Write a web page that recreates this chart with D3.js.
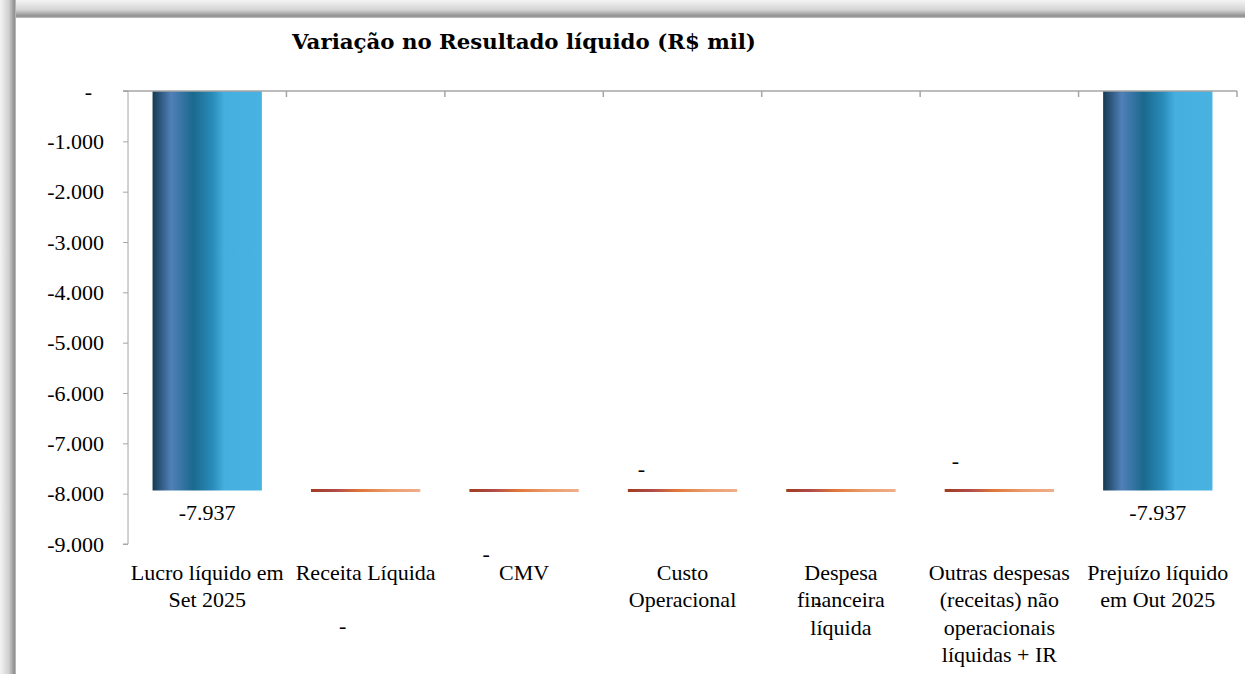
<!DOCTYPE html>
<html>
<head>
<meta charset="utf-8">
<script src="https://cdn.jsdelivr.net/npm/d3@7"></script>
<style>
  html, body { margin: 0; padding: 0; background: #fff; }
  svg { display: block; }
</style>
</head>
<body>
<svg id="chart"></svg>
<script>
// data
var categories = [
  "Lucro líquido em Set 2025",
  "Receita Líquida",
  "CMV",
  "Custo Operacional",
  "Despesa financeira líquida",
  "Outras despesas (receitas) não operacionais líquidas + IR",
  "Prejuízo líquido em Out 2025"
];
// wrapped label lines, as in the picture
var categoryLines = [
  ["Lucro líquido em", "Set 2025"],
  ["Receita Líquida"],
  ["CMV"],
  ["Custo", "Operacional"],
  ["Despesa", "financeira", "líquida"],
  ["Outras despesas", "(receitas) não", "operacionais", "líquidas + IR"],
  ["Prejuízo líquido", "em Out 2025"]
];
var values = [-7937, 0, 0, 0, 0, 0, -7937];
var kinds  = ["total", "delta", "delta", "delta", "delta", "delta", "total"];
var yTicks = [0, -1000, -2000, -3000, -4000, -5000, -6000, -7000, -8000, -9000];

// where excel dropped the "-" labels of the zero steps (offset from bar centre / bar level)
var zeroLabelOffsets = [null, [-23, 136], [-38, 64], [-41, -21], [-23, 112], [-44, -29], null];

var width = 1245, height = 674;
var svg = d3.select("#chart").attr("width", width).attr("height", height);
var defs = svg.append("defs");

var br = d3.formatLocale({ decimal: ",", thousands: ".", grouping: [3], currency: ["R$", ""], minus: "-" });
var fmt = br.format(",.0f");
function label(v) { return v === 0 ? "-" : fmt(v); }

// frame shadow
var gTop = defs.append("linearGradient").attr("id", "shTop").attr("x1", 0).attr("y1", 0).attr("x2", 0).attr("y2", 1);
gTop.append("stop").attr("offset", "0%").attr("stop-color", "#f4f4f4");
gTop.append("stop").attr("offset", "55%").attr("stop-color", "#d4d4d4");
gTop.append("stop").attr("offset", "90%").attr("stop-color", "#8e8e8e");
gTop.append("stop").attr("offset", "100%").attr("stop-color", "#c8c8c8");
var gLeft = defs.append("linearGradient").attr("id", "shLeft").attr("x1", 0).attr("y1", 0).attr("x2", 1).attr("y2", 0);
gLeft.append("stop").attr("offset", "0%").attr("stop-color", "#f4f4f4");
gLeft.append("stop").attr("offset", "55%").attr("stop-color", "#d0d0d0");
gLeft.append("stop").attr("offset", "90%").attr("stop-color", "#8e8e8e");
gLeft.append("stop").attr("offset", "100%").attr("stop-color", "#c8c8c8");

svg.append("rect").attr("width", width).attr("height", 18).attr("fill", "url(#shTop)");
svg.append("rect").attr("width", 16).attr("height", height).attr("fill", "url(#shLeft)");
svg.append("rect").attr("x", 16).attr("y", 18).attr("width", width).attr("height", height).attr("fill", "#fff");

// bar gradients
var blue = defs.append("linearGradient").attr("id", "blueBar").attr("x1", 0).attr("x2", 1).attr("y1", 0).attr("y2", 0);
[["0%", "#153a52"], ["17%", "#5080b8"], ["37%", "#1a698e"], ["55%", "#2a8cba"], ["66%", "#45b0e0"], ["100%", "#48b3e1"]]
  .forEach(function (s) { blue.append("stop").attr("offset", s[0]).attr("stop-color", s[1]); });
var orange = defs.append("linearGradient").attr("id", "orangeBar").attr("x1", 0).attr("x2", 1).attr("y1", 0).attr("y2", 0);
[["0%", "#a03c1e"], ["22%", "#b04a4a"], ["45%", "#e0773a"], ["72%", "#ec9c6c"], ["100%", "#f0ae8a"]]
  .forEach(function (s) { orange.append("stop").attr("offset", s[0]).attr("stop-color", s[1]); });

// scales
var x = d3.scaleBand().domain(categories).range([128, 1237]).paddingInner(0.31).paddingOuter(0.155);
var y = d3.scaleLinear().domain([-9000, 0]).range([544, 91]);

// waterfall levels
var level = 0;
var steps = values.map(function (v, i) {
  var s;
  if (kinds[i] === "total") { s = { start: 0, end: v }; level = v; }
  else { s = { start: level, end: level + v }; level += v; }
  s.cat = categories[i]; s.value = v; s.kind = kinds[i]; s.i = i;
  return s;
});

var font = "'Liberation Serif', 'DejaVu Serif', serif";

// title
svg.append("text")
  .attr("x", 524).attr("y", 49)
  .attr("text-anchor", "middle")
  .attr("font-family", "'DejaVu Serif', serif")
  .attr("font-weight", "bold")
  .attr("font-size", 21.3)
  .attr("fill", "#000")
  .text("Variação no Resultado líquido (R$ mil)");

// bars
svg.append("g").selectAll("rect")
  .data(steps)
  .enter().append("rect")
    .attr("x", function (d) { return x(d.cat); })
    .attr("width", x.bandwidth())
    .attr("y", function (d) { return Math.min(y(d.start), y(d.end)) - (d.kind === "delta" ? 1.5 : 0); })
    .attr("height", function (d) { return Math.max(3, Math.abs(y(d.start) - y(d.end))); })
    .attr("fill", function (d) { return d.kind === "total" ? "url(#blueBar)" : "url(#orangeBar)"; });

// axes
var yAxis = svg.append("g")
  .attr("transform", "translate(128,0)")
  .call(d3.axisLeft(y).tickValues(yTicks).tickSize(5).tickPadding(19).tickFormat(label));
yAxis.select(".domain").attr("stroke", "#a6a6a6").attr("d", "M-5,91H0V544H-5");
yAxis.selectAll(".tick line").attr("stroke", "#a6a6a6");
yAxis.selectAll(".tick text").attr("font-family", font).attr("font-size", 22).attr("fill", "#000");
// accounting style: the zero dash sits left of the digits
yAxis.selectAll(".tick text").filter(function (d) { return d === 0; }).attr("dx", -12);

var bounds = categories.map(function (c) { return x(c) - x.step() * x.paddingInner() / 2; }).concat([1237]);
var xAxis = svg.append("g");
xAxis.append("line").attr("x1", 123).attr("x2", 1237).attr("y1", y(0)).attr("y2", y(0))
  .attr("stroke", "#a6a6a6").attr("stroke-width", 1.5);
xAxis.selectAll("line.tk").data(bounds.slice(1)).enter().append("line").attr("class", "tk")
  .attr("x1", function (d) { return d; }).attr("x2", function (d) { return d; })
  .attr("y1", y(0)).attr("y2", y(0) + 6)
  .attr("stroke", "#a6a6a6").attr("stroke-width", 1.5);

// category labels
var catG = svg.append("g").selectAll("text")
  .data(steps)
  .enter().append("text")
    .attr("text-anchor", "middle")
    .attr("font-family", font).attr("font-size", 22).attr("fill", "#000")
    .attr("x", function (d) { return x(d.cat) + x.bandwidth() / 2; })
    .attr("y", 580);
catG.selectAll("tspan")
  .data(function (d) { return categoryLines[d.i].map(function (t) { return { t: t, x: x(d.cat) + x.bandwidth() / 2 }; }); })
  .enter().append("tspan")
    .attr("x", function (d) { return d.x; })
    .attr("dy", function (d, j) { return j === 0 ? 0 : 27.3; })
    .text(function (d) { return d.t; });

// value labels
svg.append("g").selectAll("text")
  .data(steps)
  .enter().append("text")
    .attr("text-anchor", "middle")
    .attr("font-family", font).attr("font-size", 22).attr("fill", "#000")
    .attr("x", function (d) {
      var o = zeroLabelOffsets[d.i];
      return x(d.cat) + x.bandwidth() / 2 + (o ? o[0] : 0);
    })
    .attr("y", function (d) {
      var o = zeroLabelOffsets[d.i];
      return o ? y(d.end) + o[1] + 7 : y(d.end) + 30;
    })
    .text(function (d) { return label(d.value); });
</script>
</body>
</html>
